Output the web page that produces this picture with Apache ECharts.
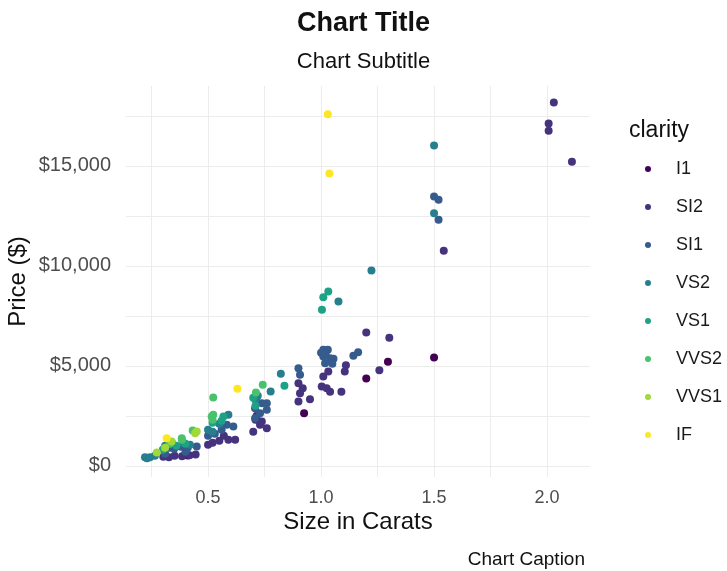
<!DOCTYPE html>
<html>
<head>
<meta charset="utf-8">
<script src="https://cdn.jsdelivr.net/npm/echarts@6/dist/echarts.min.js"></script>
<style>
html,body{margin:0;padding:0;background:#fff;}
#chart{width:727px;height:571px;}
</style>
</head>
<body>
<div id="chart"></div>
<script>
// ---- data ----
const clarities = ['I1', 'SI2', 'SI1', 'VS2', 'VS1', 'VVS2', 'VVS1', 'IF'];
const clarityColors = ['#440154', '#46337E', '#365C8D', '#277F8E', '#1FA187', '#4AC16D', '#9FDA3A', '#FDE725'];

// [carat, price]
const dataI1 = [[0.925, 2630], [1.2, 4370], [1.296, 5200], [1.5, 5420], [0.41, 520]];
const dataSI2 = [[2.03, 18170], [2.007, 17120], [2.007, 16750], [2.11, 15200], [1.543, 10750],
  [1.2, 6670], [1.302, 6400], [1.11, 5030], [1.105, 4720], [1.258, 4780], [1.09, 3700],
  [1.04, 3700], [1.01, 4470], [1.032, 4720], [1.003, 3970], [1.025, 3880], [0.9, 4130],
  [0.919, 3880], [0.907, 3630], [0.9, 3220], [0.951, 3330], [0.738, 2220], [0.76, 1880],
  [0.715, 2500], [0.59, 1300], [0.62, 1300], [0.57, 1500], [0.302, 450], [0.327, 430],
  [0.352, 500], [0.385, 480], [0.418, 530], [0.445, 560], [0.5, 1050], [0.52, 1150],
  [0.55, 1250], [0.71, 2300], [0.73, 2050], [0.7, 1700]];
const dataSI1 = [[1.5, 13470], [1.52, 13300], [1.52, 12300], [1.164, 5680], [1.143, 5500],
  [1.055, 5350], [1.01, 5800], [1.03, 5800], [1.01, 5470], [1.04, 5380], [1.018, 5130],
  [1.0, 5650], [1.02, 5600], [1.05, 5100], [0.9, 4880], [0.907, 4550], [0.715, 3220],
  [0.738, 3130], [0.76, 3130], [0.708, 2880], [0.73, 2630], [0.76, 2800], [0.708, 2380],
  [0.612, 1970], [0.583, 2050], [0.302, 800], [0.33, 900], [0.35, 850], [0.38, 950],
  [0.41, 900], [0.45, 960], [0.5, 1500], [0.51, 1700], [0.53, 1600], [0.56, 1800],
  [0.4, 700], [0.31, 600]];
const dataVS2 = [[1.5, 16020], [1.5, 12630], [1.223, 9770], [1.077, 8220], [0.822, 4600],
  [0.777, 3720], [0.59, 2550], [0.221, 430], [0.243, 430], [0.265, 500], [0.23, 380],
  [0.31, 1000], [0.34, 1150], [0.39, 1150], [0.5, 1800], [0.52, 1700], [0.72, 3500],
  [0.71, 3300], [0.55, 2100], [0.42, 1050]];
const dataVS1 = [[1.032, 8720], [1.01, 8430], [1.004, 7800], [0.838, 4000], [0.568, 2470],
  [0.3, 800], [0.36, 1000], [0.4, 1100], [0.52, 2150], [0.56, 2250], [0.7, 3400], [0.71, 3000]];
const dataVVS2 = [[0.742, 4050], [0.712, 3670], [0.523, 3420], [0.523, 2550], [0.516, 2470],
  [0.432, 1770], [0.384, 1380], [0.384, 1300], [0.33, 1100], [0.52, 2300]];
const dataVVS1 = [[0.443, 1630], [0.45, 1720], [0.273, 670], [0.339, 1220], [0.31, 900]];
const dataIF = [[1.03, 17580], [1.037, 14620], [0.63, 3850], [0.317, 1380]];

const seriesData = [dataI1, dataSI2, dataSI1, dataVS2, dataVS1, dataVVS2, dataVVS1, dataIF];

const xMajorTicks = [0.5, 1.0, 1.5, 2.0];
const xAllTicks = [0.25, 0.5, 0.75, 1.0, 1.25, 1.5, 1.75, 2.0];
const yMajorTicks = [0, 5000, 10000, 15000];
const yAllTicks = [0, 2500, 5000, 7500, 10000, 12500, 15000, 17500];

// ---- chart ----
const FONT = '"Liberation Sans", Arial, sans-serif';
const chart = echarts.init(document.getElementById('chart'), null, { renderer: 'canvas' });

const option = {
  animation: false,
  backgroundColor: '#ffffff',
  textStyle: { fontFamily: FONT },
  title: [
    {
      text: 'Chart Title',
      subtext: 'Chart Subtitle',
      left: 'center',
      top: 5,
      itemGap: 14,
      textStyle: { fontFamily: FONT, fontSize: 27, fontWeight: 'bold', color: '#111' },
      subtextStyle: { fontFamily: FONT, fontSize: 22, color: '#111' }
    },
    {
      text: 'Chart Caption',
      right: 137,
      top: 545,
      textStyle: { fontFamily: FONT, fontSize: 19, fontWeight: 'normal', color: '#111' }
    },
    {
      text: 'clarity',
      left: 624,
      top: 114,
      textStyle: { fontFamily: FONT, fontSize: 23, fontWeight: 'normal', color: '#111' }
    }
  ],
  legend: {
    orient: 'vertical',
    left: 640,
    top: 155,
    icon: 'circle',
    itemWidth: 6,
    itemHeight: 6,
    itemGap: 20,
    itemStyle: { borderWidth: 0 },
    data: clarities,
    textStyle: { fontFamily: FONT, fontSize: 18, color: '#1a1a1a', lineHeight: 18, padding: [0, 0, 0, 20] }
  },
  grid: { left: 126, right: 137, top: 86, bottom: 94, containLabel: false, outerBoundsMode: 'none' },
  xAxis: {
    type: 'value',
    min: 0.137,
    max: 2.19,
    name: 'Size in Carats',
    nameLocation: 'middle',
    nameGap: 33,
    nameMoveOverlap: false,
    nameTextStyle: { fontFamily: FONT, fontSize: 24, color: '#111' },
    axisLine: { show: false },
    axisTick: { show: false, customValues: xAllTicks },
    axisLabel: {
      customValues: xMajorTicks,
      margin: 12,
      fontFamily: FONT, fontSize: 18, color: '#4d4d4d',
      formatter: v => v.toFixed(1)
    },
    splitLine: { show: true, lineStyle: { color: '#ececec', width: 1 } },
    minorSplitLine: { show: false }
  },
  yAxis: {
    type: 'value',
    min: -560,
    max: 18990,
    name: 'Price ($)',
    nameLocation: 'middle',
    nameGap: 96,
    nameMoveOverlap: false,
    nameRotate: 90,
    nameTextStyle: { fontFamily: FONT, fontSize: 24, color: '#111' },
    axisLine: { show: false },
    axisTick: { show: false, customValues: yAllTicks },
    axisLabel: {
      customValues: yMajorTicks,
      margin: 15,
      fontFamily: FONT, fontSize: 20, color: '#4d4d4d',
      formatter: v => '$' + v.toLocaleString('en-US')
    },
    splitLine: { show: true, lineStyle: { color: '#ececec', width: 1 } }
  },
  series: clarities.map((c, i) => ({
    name: c,
    type: 'scatter',
    symbol: 'circle',
    symbolSize: 8,
    itemStyle: { color: clarityColors[i], opacity: 1 },
    data: seriesData[i]
  }))
};
chart.setOption(option);
</script>
</body>
</html>
